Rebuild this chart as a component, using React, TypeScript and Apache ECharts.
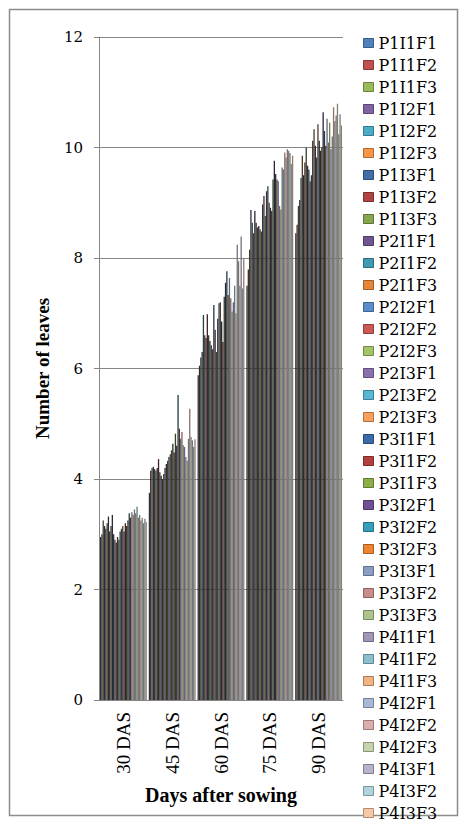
import React, { useEffect, useRef } from "react";
import * as echarts from "echarts";

const categories = ["30 DAS", "45 DAS", "60 DAS", "75 DAS", "90 DAS"];

const seriesNames = [
  "P1I1F1", "P1I1F2", "P1I1F3", "P1I2F1", "P1I2F2", "P1I2F3", "P1I3F1", "P1I3F2", "P1I3F3",
  "P2I1F1", "P2I1F2", "P2I1F3", "P2I2F1", "P2I2F2", "P2I2F3", "P2I3F1", "P2I3F2", "P2I3F3",
  "P3I1F1", "P3I1F2", "P3I1F3", "P3I2F1", "P3I2F2", "P3I2F3", "P3I3F1", "P3I3F2", "P3I3F3",
  "P4I1F1", "P4I1F2", "P4I1F3", "P4I2F1", "P4I2F2", "P4I2F3", "P4I3F1", "P4I3F2", "P4I3F3",
];

const das30 = [
  2.95, 3.0, 3.25, 3.15, 3.1, 3.2, 3.32, 3.05, 3.15, 3.35, 3.0, 2.9,
  2.85, 2.95, 2.9, 3.05, 3.1, 3.15, 3.05, 3.2, 3.15, 3.25, 3.38, 3.3,
  3.4, 3.35, 3.45, 3.38, 3.5, 3.3, 3.35, 3.25, 3.3, 3.2, 3.28, 3.22,
];
const das45 = [
  3.75, 4.15, 4.2, 4.22, 4.18, 4.15, 4.2, 4.36, 4.12, 4.06, 4.0, 4.09,
  4.2, 4.27, 4.33, 4.4, 4.45, 4.52, 4.64, 4.48, 4.82, 4.6, 5.52, 4.91,
  4.73, 4.85, 4.61, 4.58, 4.4, 4.33, 4.73, 5.27, 4.76, 4.7, 4.58, 4.72,
];
const das60 = [
  5.88, 6.05, 6.2, 6.3, 6.97, 6.6, 6.55, 6.98, 6.6, 6.5, 6.42, 6.35,
  7.15, 6.7, 6.3, 6.9, 7.18, 7.2, 6.85, 6.48, 7.3, 7.55, 7.76, 7.33,
  7.64, 7.27, 7.03, 7.2, 7.5, 7.0, 8.24, 7.94, 7.5, 8.39, 7.45, 8.0,
];
const das75 = [
  7.5, 7.79, 8.15, 8.87, 8.64, 8.45, 8.85, 8.64, 8.55, 8.58, 8.52, 8.48,
  8.97, 9.12, 8.76, 9.21, 9.3, 9.0, 8.91, 8.85, 9.42, 9.76, 9.52, 9.42,
  9.39, 8.94, 8.88, 9.64, 9.6, 9.91, 9.82, 9.97, 9.94, 9.9, 9.7, 9.85,
];
const das90 = [
  8.45, 8.6, 8.94, 9.05, 9.45, 9.85, 9.5, 9.73, 10.0, 9.67, 9.6, 9.39,
  9.5, 10.12, 10.33, 10.03, 9.82, 10.42, 10.12, 9.94, 10.0, 10.64, 10.3, 10.03,
  10.52, 10.09, 10.45, 9.97, 10.2, 10.73, 10.48, 10.58, 10.79, 10.24, 10.6, 10.4,
];

const yMin = 0;
const yMax = 12;
const yInterval = 2;

const legendColors = [
  "#4F81BD", "#C0504D", "#9BBB59", "#8064A2", "#4BACC6", "#F79646",
  "#426EA8", "#AE4542", "#88A64D", "#6F5690", "#3F9AB2", "#E5853A",
  "#5A8CCB", "#CB5A56", "#A4C466", "#8B70AE", "#58B7D1", "#F9A05A",
  "#3A6AA8", "#B43F3C", "#8BAE47", "#714F95", "#36A0BC", "#EE8430",
  "#8A9EC4", "#C98C8A", "#AFC48C", "#A096B8", "#8CC0CF", "#F2B383",
  "#A9B8D4", "#D9AEAD", "#C6D4AE", "#BAB1CC", "#B0D3DE", "#F5C8A6",
];

function mix(hex: string, other: string, t: number): string {
  const a = parseInt(hex.slice(1), 16);
  const b = parseInt(other.slice(1), 16);
  const r = Math.round(((a >> 16) & 255) * (1 - t) + ((b >> 16) & 255) * t);
  const g = Math.round(((a >> 8) & 255) * (1 - t) + ((b >> 8) & 255) * t);
  const bl = Math.round((a & 255) * (1 - t) + (b & 255) * t);
  return "#" + ((1 << 24) + (r << 16) + (g << 8) + bl).toString(16).slice(1);
}

const SERIF = "'Liberation Serif', 'Times New Roman', serif";
const WIDE_SERIF = "'DejaVu Serif', 'Liberation Serif', serif";

export default function App() {
  const ref = useRef<HTMLDivElement>(null);

  useEffect(() => {
    if (!ref.current) return;
    const chart = echarts.init(ref.current, undefined, { renderer: "svg" });
    const catValues = [das30, das45, das60, das75, das90];

    const series = seriesNames.map((name, i) => ({
      type: "bar" as const,
      name,
      data: catValues.map((arr) => arr[i]),
      barGap: "0%",
      barCategoryGap: "4%",
      itemStyle: {
        color: i < 24 ? mix(legendColors[i], "#141414", 0.72) : mix(legendColors[i], "#363636", 0.52),
      },
      emphasis: { disabled: true },
    }));

    chart.setOption({
      animation: false,
      backgroundColor: "#ffffff",
      grid: { left: 99, right: 119, top: 37, bottom: 125, containLabel: false },
      xAxis: {
        type: "category",
        data: categories,
        axisLine: { show: true, lineStyle: { color: "#868686", width: 1 } },
        axisTick: { show: false },
        axisLabel: {
          rotate: 90,
          margin: 12,
          color: "#000",
          fontFamily: SERIF,
          fontSize: 19,
        },
        name: "Days after sowing",
        nameLocation: "middle",
        nameGap: 85,
        nameTextStyle: { color: "#000", fontFamily: SERIF, fontWeight: "bold", fontSize: 20 },
      },
      yAxis: {
        type: "value",
        min: yMin,
        max: yMax,
        interval: yInterval,
        axisLine: { show: true, lineStyle: { color: "#868686", width: 1 } },
        axisTick: { show: true, length: 5, lineStyle: { color: "#868686" } },
        splitLine: { show: true, lineStyle: { color: "#868686", width: 1 } },
        axisLabel: { color: "#000", fontFamily: WIDE_SERIF, fontSize: 15, margin: 16 },
        name: "Number of leaves",
        nameLocation: "middle",
        nameRotate: 90,
        nameGap: 47,
        nameTextStyle: { color: "#000", fontFamily: SERIF, fontWeight: "bold", fontSize: 19 },
      },
      legend: {
        type: "plain",
        orient: "vertical",
        left: 363,
        top: 35,
        height: 800,
        padding: 0,
        itemWidth: 10,
        itemHeight: 9,
        itemGap: 6,
        selectedMode: false,
        icon: "rect",
        textStyle: { color: "#000", fontFamily: WIDE_SERIF, fontSize: 16, lineHeight: 16 },
        data: seriesNames.map((n, i) => ({
          name: n,
          itemStyle: {
            color: legendColors[i],
            borderColor: mix(legendColors[i], "#000000", 0.3),
            borderWidth: 1,
          },
        })),
      },
      graphic: [
        {
          type: "rect",
          shape: { x: 9.5, y: 9.5, width: 448, height: 806 },
          style: { fill: "none", stroke: "#8c8c8c", lineWidth: 1.5 },
          silent: true,
        },
      ],
      series,
    });

    return () => chart.dispose();
  }, []);

  return (
    <div
      ref={ref}
      style={{ position: "fixed", left: 0, top: 0, width: 462, height: 825, background: "#fff" }}
    />
  );
}
